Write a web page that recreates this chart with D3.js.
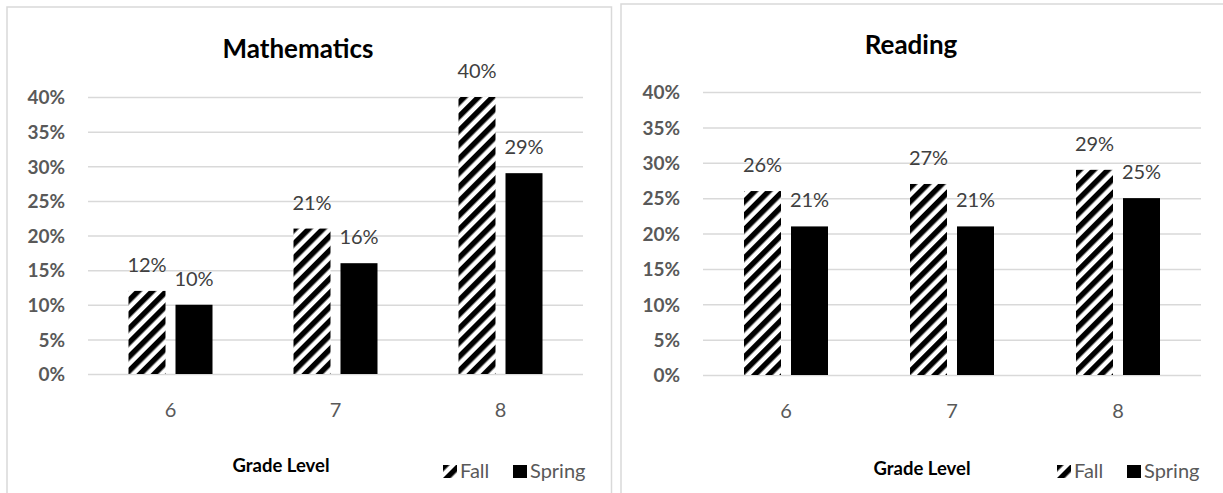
<!DOCTYPE html>
<html>
<head>
<meta charset="utf-8">
<script src="https://cdn.jsdelivr.net/npm/d3@7"></script>
<style>
  body { margin: 0; background: #fff; }
  svg { display: block; }
</style>
</head>
<body>
<svg width="1223" height="493"></svg>
<script>
// Chart data
const grades = ["6", "7", "8"];
const seriesNames = ["Fall", "Spring"];
const mathFall = [0.12, 0.21, 0.40];
const mathSpring = [0.10, 0.16, 0.29];
const readingFall = [0.26, 0.27, 0.29];
const readingSpring = [0.21, 0.21, 0.25];
const yTicks = [0, 0.05, 0.10, 0.15, 0.20, 0.25, 0.30, 0.35, 0.40];

const svg = d3.select("svg");
const font = "Lato, 'Open Sans', sans-serif";

// Hatch pattern for the Fall bars (wide upward diagonal)
const defs = svg.append("defs");
const pat = defs.append("pattern")
    .attr("id", "hatch")
    .attr("patternUnits", "userSpaceOnUse")
    .attr("width", 10)
    .attr("height", 10)
    .attr("patternTransform", "rotate(45)");
pat.append("rect").attr("width", 10).attr("height", 10).attr("fill", "#fff");
pat.append("rect").attr("width", 5.5).attr("height", 10).attr("fill", "#000");

// Draws one panel
function drawChart(opt) {
    const g = svg.append("g");

    // panel frame
    g.append("rect")
        .attr("x", opt.frame[0]).attr("y", opt.frame[1])
        .attr("width", opt.frame[2]).attr("height", opt.frame[3])
        .attr("fill", "none").attr("stroke", "#d9d9d9").attr("stroke-width", 1.5);

    const x0 = d3.scaleBand().domain(grades).range([opt.left, opt.right]);
    const x1 = d3.scaleBand().domain(seriesNames).range([0, 84]).paddingInner(10 / 47);
    const y = d3.scaleLinear().domain([0, 0.4]).range([opt.bottom, opt.top]);

    // gridlines
    const grid = g.append("g")
        .attr("transform", `translate(${opt.left},0)`)
        .call(d3.axisLeft(y).tickValues(yTicks).tickSize(-(opt.right - opt.left)).tickFormat(""));
    grid.select(".domain").remove();
    grid.selectAll("line").attr("stroke", "#d9d9d9").attr("stroke-width", 1.5);

    // y labels
    const yAxis = g.append("g")
        .attr("transform", `translate(${opt.left},0)`)
        .call(d3.axisLeft(y).tickValues(yTicks).tickSize(0).tickPadding(23).tickFormat(d3.format(".0%")));
    yAxis.select(".domain").remove();
    yAxis.selectAll("text")
        .attr("font-family", font).attr("font-size", 19).attr("font-weight", "bold")
        .attr("fill", "#595959").attr("dy", "0.36em");

    // x labels
    const xAxis = g.append("g")
        .attr("transform", `translate(0,${opt.bottom})`)
        .call(d3.axisBottom(x0).tickSize(0).tickPadding(0));
    xAxis.select(".domain").remove();
    xAxis.selectAll("text")
        .attr("font-family", font).attr("font-size", 20)
        .attr("fill", "#595959").attr("y", 43).attr("dy", 0);

    // bars
    const rows = grades.map((gr, i) => ({ grade: gr, values: [opt.fall[i], opt.spring[i]] }));
    const groups = g.selectAll("g.grp")
        .data(rows)
        .enter()
        .append("g")
        .attr("class", "grp")
        .attr("transform", d => `translate(${x0(d.grade) + x0.bandwidth() / 2 - 42},0)`);

    groups.selectAll("rect")
        .data(d => d.values.map((v, j) => ({ s: seriesNames[j], v: v })))
        .enter()
        .append("rect")
        .attr("x", d => x1(d.s))
        .attr("y", d => y(d.v))
        .attr("width", x1.bandwidth())
        .attr("height", d => y(0) - y(d.v))
        .attr("fill", d => d.s === "Fall" ? "url(#hatch)" : "#000");

    // value labels
    groups.selectAll("text")
        .data(d => d.values.map((v, j) => ({ s: seriesNames[j], v: v })))
        .enter()
        .append("text")
        .attr("x", d => x1(d.s) + x1.bandwidth() / 2)
        .attr("y", d => y(d.v) - 19)
        .attr("text-anchor", "middle")
        .attr("font-family", font).attr("font-size", 20)
        .attr("fill", "#404040")
        .text(d => d3.format(".0%")(d.v));

    // title
    g.append("text")
        .attr("x", opt.titleX).attr("y", opt.titleY)
        .attr("text-anchor", "middle")
        .attr("font-family", font).attr("font-size", 26).attr("font-weight", "bold")
        .attr("fill", "#000")
        .text(opt.title);

    // x axis title
    g.append("text")
        .attr("x", opt.xTitleX).attr("y", opt.xTitleY)
        .attr("text-anchor", "middle")
        .attr("font-family", font).attr("font-size", 19).attr("font-weight", "bold")
        .attr("fill", "#000")
        .attr("textLength", 97).attr("lengthAdjust", "spacingAndGlyphs")
        .text("Grade Level");

    // legend
    const leg = g.append("g").attr("transform", `translate(${opt.legendX},${opt.legendY})`);
    const legItems = [
        { name: "Fall", fill: "url(#hatch)", dx: 0 },
        { name: "Spring", fill: "#000", dx: 70 }
    ];
    legItems.forEach(it => {
        leg.append("rect")
            .attr("x", it.dx).attr("y", -13)
            .attr("width", 14).attr("height", 13)
            .attr("fill", it.fill);
        leg.append("text")
            .attr("x", it.dx + 17).attr("y", 0)
            .attr("font-family", font).attr("font-size", 20)
            .attr("fill", "#595959")
            .text(it.name);
    });
}

drawChart({
    title: "Mathematics",
    fall: mathFall, spring: mathSpring,
    frame: [7, 7, 604.5, 500],
    left: 88, right: 583, top: 97, bottom: 374,
    titleX: 298, titleY: 58,
    xTitleX: 281, xTitleY: 472,
    legendX: 443, legendY: 478
});

drawChart({
    title: "Reading",
    fall: readingFall, spring: readingSpring,
    frame: [621, 4, 620, 500],
    left: 703, right: 1201, top: 92, bottom: 375,
    titleX: 911, titleY: 54,
    xTitleX: 922, xTitleY: 475,
    legendX: 1057, legendY: 478
});
</script>
</body>
</html>
